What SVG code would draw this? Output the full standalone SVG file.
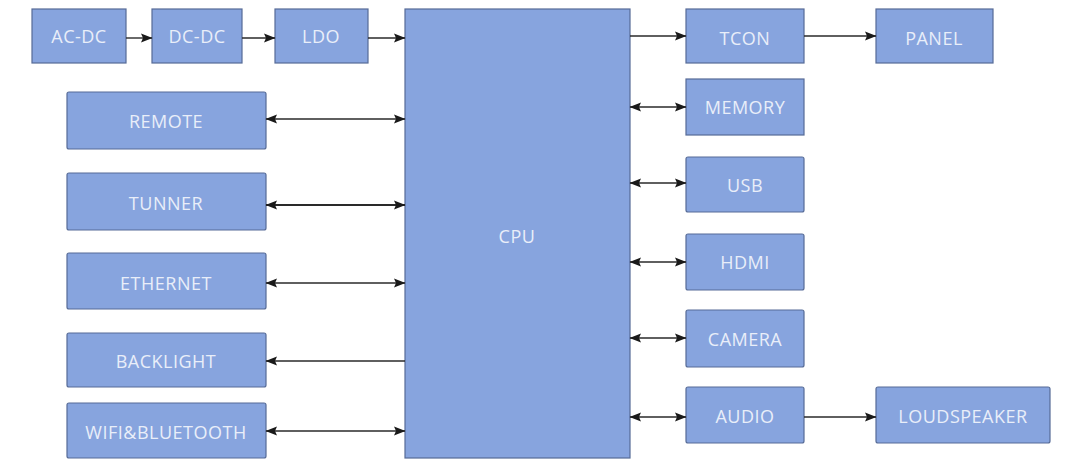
<svg xmlns="http://www.w3.org/2000/svg" width="1065" height="461" viewBox="0 0 1065 461">
<defs>
<style>
.box{fill:#87a4de;stroke:#566b97;stroke-width:1.2}
.lbl{font-family:"Open Sans","Noto Sans","Liberation Sans",sans-serif;font-size:18px;fill:#e9eef9;text-anchor:middle;dominant-baseline:central;letter-spacing:0.5px}
.ln{stroke:#2a2a2a;stroke-width:1.4;fill:none}
</style>
<marker id="ah" markerUnits="userSpaceOnUse" markerWidth="12" markerHeight="10" refX="11" refY="5" orient="auto-start-reverse" viewBox="0 0 12 10">
<path d="M0,0.5 L11.5,5 L0,9.5 L2,5 z" fill="#1a1a1a"/>
</marker>
</defs>
<rect width="1065" height="461" fill="#ffffff"/>
<g id="acdc"><rect class="box" x="32" y="9" width="94" height="54"/><text class="lbl" x="79" y="36">AC-DC</text></g>
<g id="dcdc"><rect class="box" x="152" y="9" width="90" height="54"/><text class="lbl" x="197" y="36">DC-DC</text></g>
<g id="ldo"><rect class="box" x="275" y="9" width="93" height="54"/><text class="lbl" x="321" y="36">LDO</text></g>
<g id="cpu"><rect class="box" x="405" y="9" width="225" height="449"/><text class="lbl" x="517" y="236">CPU</text></g>
<g id="remote"><rect class="box" x="67" y="92" width="199" height="57" rx="2"/><text class="lbl" x="166" y="121">REMOTE</text></g>
<g id="tunner"><rect class="box" x="67" y="173" width="199" height="57" rx="2"/><text class="lbl" x="166" y="203">TUNNER</text></g>
<g id="ethernet"><rect class="box" x="67" y="253" width="199" height="56" rx="2"/><text class="lbl" x="166" y="283">ETHERNET</text></g>
<g id="backlight"><rect class="box" x="67" y="333" width="199" height="54" rx="2"/><text class="lbl" x="166" y="361">BACKLIGHT</text></g>
<g id="wifi"><rect class="box" x="67" y="403" width="199" height="55" rx="2"/><text class="lbl" x="166" y="432">WIFI&amp;BLUETOOTH</text></g>
<g id="tcon"><rect class="box" x="686" y="9" width="118" height="54"/><text class="lbl" x="745" y="38">TCON</text></g>
<g id="panel"><rect class="box" x="876" y="9" width="117" height="54"/><text class="lbl" x="934" y="38">PANEL</text></g>
<g id="memory"><rect class="box" x="686" y="79" width="118" height="56"/><text class="lbl" x="745" y="107">MEMORY</text></g>
<g id="usb"><rect class="box" x="686" y="157" width="118" height="55" rx="2"/><text class="lbl" x="745" y="185">USB</text></g>
<g id="hdmi"><rect class="box" x="686" y="234" width="118" height="56" rx="2"/><text class="lbl" x="745" y="262">HDMI</text></g>
<g id="camera"><rect class="box" x="686" y="310" width="118" height="57" rx="2"/><text class="lbl" x="745" y="339">CAMERA</text></g>
<g id="audio"><rect class="box" x="686" y="387" width="118" height="56" rx="2"/><text class="lbl" x="745" y="416">AUDIO</text></g>
<g id="loudspeaker"><rect class="box" x="876" y="387" width="174" height="56" rx="2"/><text class="lbl" x="963" y="416">LOUDSPEAKER</text></g>
<g id="connectors">
<line class="ln" x1="126" y1="38" x2="152" y2="38" marker-end="url(#ah)"/>
<line class="ln" x1="242" y1="38" x2="275" y2="38" marker-end="url(#ah)"/>
<line class="ln" x1="368" y1="38" x2="405" y2="38" marker-end="url(#ah)"/>
<line class="ln" x1="266" y1="119" x2="405" y2="119" marker-start="url(#ah)" marker-end="url(#ah)"/>
<line class="ln" x1="266" y1="205" x2="405" y2="205" style="stroke-width:2" marker-start="url(#ah)" marker-end="url(#ah)"/>
<line class="ln" x1="266" y1="283" x2="405" y2="283" marker-start="url(#ah)" marker-end="url(#ah)"/>
<line class="ln" x1="405" y1="361" x2="266" y2="361" marker-end="url(#ah)"/>
<line class="ln" x1="266" y1="431" x2="405" y2="431" marker-start="url(#ah)" marker-end="url(#ah)"/>
<line class="ln" x1="630" y1="36" x2="686" y2="36" marker-end="url(#ah)"/>
<line class="ln" x1="804" y1="36" x2="876" y2="36" marker-end="url(#ah)"/>
<line class="ln" x1="630" y1="107" x2="686" y2="107" marker-start="url(#ah)" marker-end="url(#ah)"/>
<line class="ln" x1="630" y1="183" x2="686" y2="183" marker-start="url(#ah)" marker-end="url(#ah)"/>
<line class="ln" x1="630" y1="262" x2="686" y2="262" marker-start="url(#ah)" marker-end="url(#ah)"/>
<line class="ln" x1="630" y1="338" x2="686" y2="338" marker-start="url(#ah)" marker-end="url(#ah)"/>
<line class="ln" x1="630" y1="417" x2="686" y2="417" marker-start="url(#ah)" marker-end="url(#ah)"/>
<line class="ln" x1="804" y1="417" x2="876" y2="417" marker-end="url(#ah)"/>
</g>
</svg>
